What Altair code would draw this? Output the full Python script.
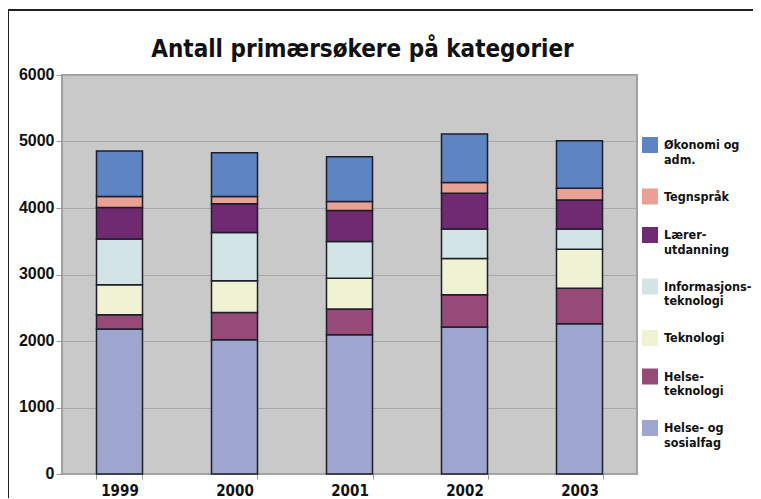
import altair as alt
import pandas as pd

years = ["1999", "2000", "2001", "2002", "2003"]
# stacking order: bottom -> top
categories = [
    "Helse- og|sosialfag",
    "Helse-|teknologi",
    "Teknologi",
    "Informasjons-|teknologi",
    "Lærer-|utdanning",
    "Tegnspråk",
    "Økonomi og|adm.",
]
helse_sosial = [2180, 2020, 2095, 2210, 2260]
helse_tek = [215, 410, 385, 485, 535]
teknologi = [450, 477, 465, 545, 586]
informasjon = [687, 725, 550, 446, 305]
laerer = [475, 432, 466, 536, 436]
tegnsprak = [165, 109, 135, 160, 176]
okonomi = [687, 657, 676, 731, 715]
series = [helse_sosial, helse_tek, teknologi, informasjon, laerer, tegnsprak, okonomi]
colors = ["#9ea6d0", "#964a77", "#f0f2d4", "#d3e4e6", "#6f2a72", "#e8a193", "#5f84c4"]

rows = []
for ci, (cat, vals) in enumerate(zip(categories, series)):
    for y, v in zip(years, vals):
        rows.append({"year": y, "category": cat, "value": v, "rank": ci})
df = pd.DataFrame(rows)

legend_order = categories[::-1]
legend_colors = colors[::-1]

W, H = 575, 399
narrow = "DejaVu Sans Condensed, Liberation Sans, sans-serif"

bars = alt.Chart(df).mark_bar(stroke="#1e1e2a", strokeWidth=1.5).encode(
    x=alt.X("year:N", title=None, sort=years,
            scale=alt.Scale(paddingInner=0.6, paddingOuter=0.3),
            axis=alt.Axis(labelAngle=0, labelFont=narrow, labelFontSize=15,
                          labelFontWeight="bold", labelColor="#111",
                          labelPadding=4, tickSize=5, tickColor="#999",
                          tickBand="extent", domain=False, grid=False)),
    y=alt.Y("value:Q", title=None, stack="zero",
            scale=alt.Scale(domain=[0, 6000]),
            axis=alt.Axis(values=[0, 1000, 2000, 3000, 4000, 5000, 6000], format="d",
                          labelFont="Liberation Sans", labelFontSize=16,
                          labelFontWeight="bold", labelColor="#111",
                          labelPadding=2, labelOffset=-1, tickSize=6,
                          tickColor="#999", domain=False, gridColor="#a8a8a8",
                          gridWidth=1.2)),
    color=alt.Color("category:N", sort=legend_order,
                    scale=alt.Scale(domain=legend_order, range=legend_colors),
                    legend=alt.Legend(title=None, orient="none", legendX=580, legendY=62,
                                      symbolType="square", symbolSize=256,
                                      symbolStrokeWidth=0, symbolOpacity=1,
                                      labelFont=narrow, labelFontSize=12.5,
                                      labelFontWeight="bold", labelColor="#111",
                                      labelExpr="split(datum.label, '|')",
                                      labelLimit=200, rowPadding=22.5, padding=0,
                                      labelOffset=6)),
    order=alt.Order("rank:Q", sort="ascending"),
)

frame = alt.Chart(df).mark_rule(color="#222", strokeWidth=1.5).encode(
    x=alt.value(-54), y=alt.value(-65), y2=alt.value(H + 30)
)
frame_top = alt.Chart(df).mark_rule(color="#222", strokeWidth=1.5).encode(
    x=alt.value(-54), x2=alt.value(W + 120), y=alt.value(-65)
)

chart = alt.layer(frame, frame_top, bars).properties(
    width=W, height=H,
    title=alt.Title("Antall primærsøkere på kategorier", font=narrow, fontSize=24,
                    fontWeight="bold", color="#111", anchor="middle", dx=13, offset=-53),
    autosize=alt.AutoSizeParams(type="none"),
    padding={"left": 54, "top": 67, "right": 116, "bottom": 24},
).configure_view(fill="#c9c9c9", stroke="#a0a0a0", strokeWidth=2)

chart.save("out.html", embed_options={"renderer": "svg", "actions": False})
